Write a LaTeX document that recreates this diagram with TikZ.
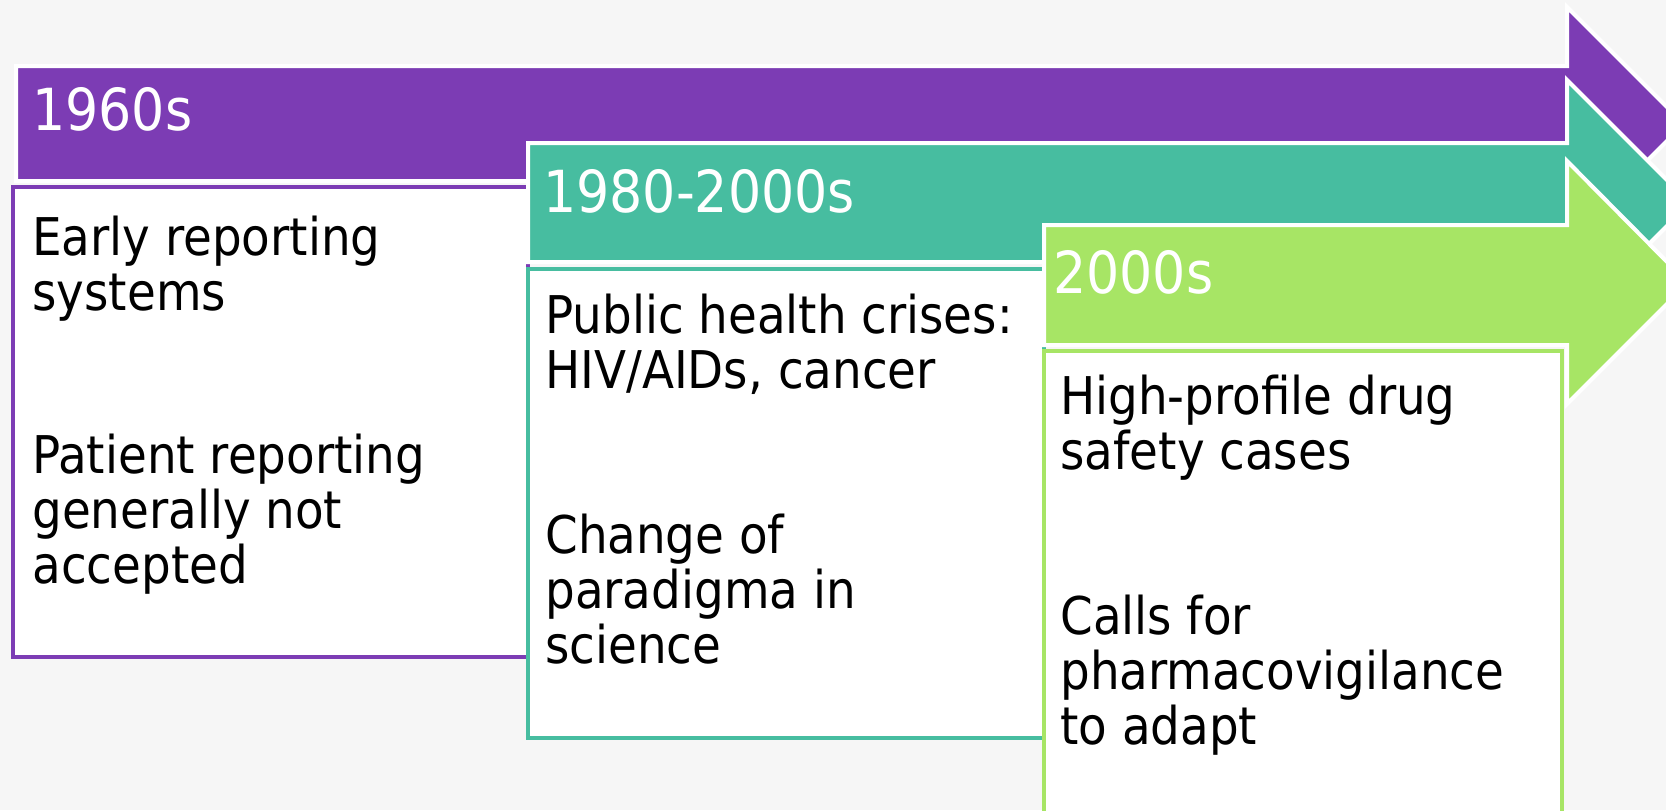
\documentclass[tikz,border=0pt]{standalone}
\usepackage{fontspec}
\setmainfont{DejaVu Sans Condensed}
\usepackage{tikz}
\definecolor{eraPurple}{HTML}{7C3CB4}
\definecolor{eraTeal}{HTML}{47BDA0}
\definecolor{eraGreen}{HTML}{A7E565}
\definecolor{slideGrey}{HTML}{F6F6F6}
\tikzstyle{periodArrow} = [draw=white,
                           line width=2pt,
                           line join=miter]
\tikzstyle{periodBox}   = [line width=2pt,
                           fill=white]
\tikzstyle{headText}    = [anchor=base west,
                           inner sep=0pt,
                           text=white,
                           font=\fontsize{29}{31}\selectfont]
% multi-line text sits on the baseline of its last line
\tikzstyle{bodyText}    = [anchor=base west,
                           inner sep=0pt,
                           align=left,
                           text=black,
                           font=\fontsize{26}{27.5}\selectfont]

\begin{document}
\begin{tikzpicture}[x=0.5pt, y=-0.5pt]
        \fill [slideGrey] (0,0) rectangle (1666,810);
        \clip (0,0) rectangle (1666,810);

        % 1960s
        \filldraw [periodArrow, fill=eraPurple] (16,66) -- (1567,66) -- (1567,7)
            -- (1684,124) -- (1567,241) -- (1567,181) -- (16,181) -- cycle;
        \draw [periodBox, draw=eraPurple] (13,187) rectangle (528,657);
        \node [headText] (sixties) at (32,130) {1960s};
        \node [bodyText] (earlyReporting) at (32,310) {Early reporting\\systems};
        \node [bodyText] (patientReporting) at (32,583) {Patient reporting\\generally not\\accepted};

        % 1980-2000s
        \filldraw [periodArrow, fill=eraTeal] (528,143) -- (1567,143) -- (1567,80)
            -- (1690,203) -- (1567,326) -- (1567,262) -- (528,262) -- cycle;
        \draw [periodBox, draw=eraTeal] (528,269) rectangle (1044,738);
        \node [headText] (eighties) at (543,212) {1980-2000s};
        \node [bodyText] (healthCrises) at (545,388) {Public health crises:\\HIV/AIDs, cancer};
        \node [bodyText] (paradigm) at (545,663) {Change of\\paradigma in\\science};

        % 2000s
        \filldraw [periodArrow, fill=eraGreen] (1044,225) -- (1567,225) -- (1567,161)
            -- (1688,283) -- (1567,404) -- (1567,345) -- (1044,345) -- cycle;
        \draw [periodBox, draw=eraGreen] (1044,351) rectangle (1562,840);
        \node [headText] (twoThousands) at (1053,293) {2000s};
        \node [bodyText] (safetyCases) at (1060,469) {High-profile drug\\safety cases};
        \node [bodyText] (pvCalls) at (1060,744) {Calls for\\pharmacovigilance\\to adapt};
    \end{tikzpicture}
\end{document}
